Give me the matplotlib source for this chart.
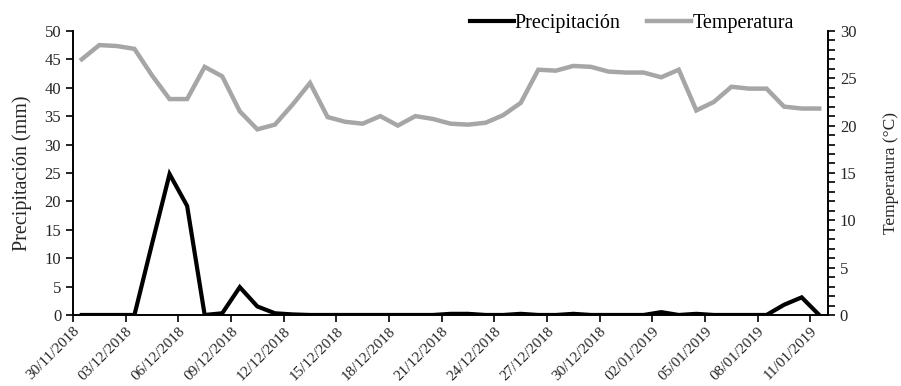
import numpy as np
import matplotlib
matplotlib.use("Agg")
import matplotlib.pyplot as plt
from matplotlib.ticker import MultipleLocator

plt.rcParams["font.family"] = ["Liberation Serif", "DejaVu Serif"]
plt.rcParams["font.size"] = 12

# daily values, 30/11/2018 .. 11/01/2019
fechas = ["30/11/2018", "03/12/2018", "06/12/2018", "09/12/2018", "12/12/2018",
          "15/12/2018", "18/12/2018", "21/12/2018", "24/12/2018", "27/12/2018",
          "30/12/2018", "02/01/2019", "05/01/2019", "08/01/2019", "11/01/2019"]

precipitacion = [0, 0, 0, 0, 12.5, 24.8, 19.2, 0, 0.3, 4.9,
                 1.5, 0.3, 0.1, 0, 0, 0, 0, 0, 0, 0,
                 0, 0.2, 0.2, 0, 0, 0.2, 0, 0, 0.2, 0,
                 0, 0, 0, 0.5, 0, 0.2, 0, 0, 0, 0,
                 1.8, 3.1, 0]

temperatura = [27.0, 28.5, 28.4, 28.1, 25.3, 22.8, 22.8, 26.2, 25.2, 21.5,
               19.6, 20.1, 22.2, 24.5, 20.9, 20.4, 20.2, 21.0, 20.0, 21.0,
               20.7, 20.2, 20.1, 20.3, 21.1, 22.4, 25.9, 25.8, 26.3, 26.2,
               25.7, 25.6, 25.6, 25.1, 25.9, 21.6, 22.5, 24.1, 23.9, 23.9,
               22.0, 21.8, 21.8]

dias = np.arange(len(temperatura))
gris_texto = "#262626"

fig = plt.figure(figsize=(9.01, 3.86), dpi=100)
ax = fig.add_axes([0.081, 0.184, 0.838, 0.736])
ax2 = ax.twinx()

l1, = ax.plot(dias, precipitacion, color="black", lw=3, label="Precipitación",
              solid_joinstyle="miter")
l2, = ax2.plot(dias, temperatura, color="#a6a6a6", lw=3.2, label="Temperatura",
               solid_joinstyle="miter")

ax.set_xlim(-0.5, len(dias) - 0.5)
ax.set_ylim(0, 50)
ax2.set_ylim(0, 30)
ax.yaxis.set_major_locator(MultipleLocator(5))
ax2.yaxis.set_major_locator(MultipleLocator(5))
ax2.yaxis.set_minor_locator(MultipleLocator(1))

ax.set_xticks(np.arange(len(fechas)) * 3 - 0.5)
ax.set_xticklabels(fechas, rotation=45, ha="right", rotation_mode="anchor", fontsize=11)

for a in (ax, ax2):
    a.spines["top"].set_visible(False)
    a.spines["left"].set_linewidth(1.2)
    a.spines["right"].set_linewidth(1.2)
    a.spines["bottom"].set_linewidth(1.2)
    a.tick_params(direction="out", length=5, width=1.2, colors="black", labelcolor=gris_texto)
ax2.tick_params(which="minor", direction="out", length=5, width=1.2)
ax.tick_params(axis="x", pad=2)

ax.set_ylabel("Precipitación (mm)", color=gris_texto, fontsize=14.5, labelpad=9)
ax2.set_ylabel("Temperatura (°C)", color=gris_texto, fontsize=12.5, labelpad=19)

fig.legend(handles=[l1, l2], loc="center", bbox_to_anchor=(0.701, 0.938), ncol=2,
           frameon=False, handlelength=2.2, handletextpad=0.05, columnspacing=1.3,
           fontsize=14.5)

fig.savefig("out.png", dpi=100)
